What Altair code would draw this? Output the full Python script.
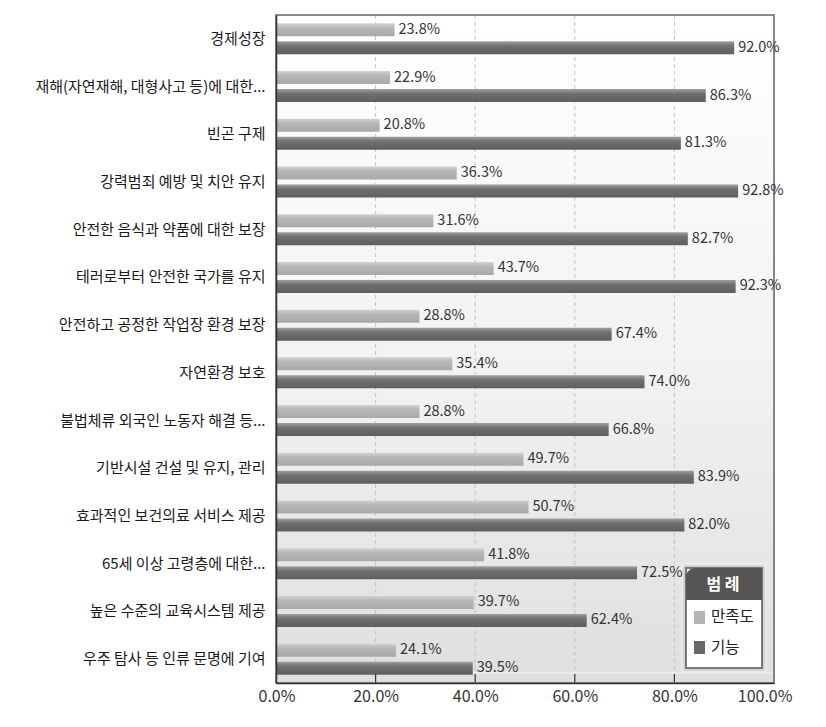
import altair as alt
import pandas as pd

categories = [
    "경제성장",
    "재해(자연재해, 대형사고 등)에 대한...",
    "빈곤 구제",
    "강력범죄 예방 및 치안 유지",
    "안전한 음식과 약품에 대한 보장",
    "테러로부터 안전한 국가를 유지",
    "안전하고 공정한 작업장 환경 보장",
    "자연환경 보호",
    "불법체류 외국인 노동자 해결 등...",
    "기반시설 건설 및 유지, 관리",
    "효과적인 보건의료 서비스 제공",
    "65세 이상 고령층에 대한...",
    "높은 수준의 교육시스템 제공",
    "우주 탐사 등 인류 문명에 기여",
]
satisfaction = [23.8, 22.9, 20.8, 36.3, 31.6, 43.7, 28.8, 35.4, 28.8, 49.7, 50.7, 41.8, 39.7, 24.1]
function_vals = [92.0, 86.3, 81.3, 92.8, 82.7, 92.3, 67.4, 74.0, 66.8, 83.9, 82.0, 72.5, 62.4, 39.5]
series_names = ["만족도", "기능"]
x_ticks = [0, 20, 40, 60, 80, 100]
grid_ticks = [20, 40, 60, 80]

FONT = "Noto Sans CJK KR"
W, H = 498, 668

rows = []
for c, s, f in zip(categories, satisfaction, function_vals):
    rows.append({"category": c, "series": series_names[0], "value": s})
    rows.append({"category": c, "series": series_names[1], "value": f})
df = pd.DataFrame(rows)
dummy = pd.DataFrame({"d": [0]})
grid_df = pd.DataFrame({"v": grid_ticks})

x_scale = alt.Scale(domain=[0, 100], nice=False, zero=True)
y_enc = alt.Y("category:N", sort=categories,
              scale=alt.Scale(paddingInner=0, paddingOuter=0),
              axis=alt.Axis(title=None, ticks=False, labelPadding=11, labelFontSize=15,
                            labelColor="#1a1a1a", labelFont=FONT, domainColor="#333",
                            domainWidth=1.5, labelLimit=300, zindex=1))
yoff = alt.YOffset("series:N", sort=series_names,
                   scale=alt.Scale(paddingInner=0.2778, paddingOuter=0.464))

background = alt.Chart(dummy).mark_rect(
    fill=alt.Gradient(gradient="linear",
                      stops=[alt.GradientStop(color="#ffffff", offset=0),
                             alt.GradientStop(color="#f3f3f3", offset=0.5),
                             alt.GradientStop(color="#dfdfdf", offset=1)],
                      x1=0, x2=0, y1=0, y2=1)
).encode(x=alt.value(0), x2=alt.value(W), y=alt.value(0), y2=alt.value(H))

grid = alt.Chart(grid_df).mark_rule(color="#c4c4c4", strokeDash=[4, 3], strokeWidth=1).encode(
    x=alt.X("v:Q", scale=x_scale), y=alt.value(0), y2=alt.value(H))

bottom_line = alt.Chart(dummy).mark_rule(color="#f4f4f4", strokeWidth=1.2).encode(
    x=alt.value(0), x2=alt.value(W), y=alt.value(H - 10))

base = alt.Chart(df).encode(
    x=alt.X("value:Q", scale=x_scale,
            axis=alt.Axis(title=None, values=x_ticks, grid=False, ticks=False,
                          labelExpr="format(datum.value, '.1f') + '%'",
                          labelFontSize=16, labelColor="#333", labelFont=FONT,
                          labelFlush=True, labelFlushOffset=18,
                          labelPadding=5, domainColor="#333", domainWidth=1.5, zindex=1)),
    y=y_enc,
    yOffset=yoff,
)

light_bars = base.transform_filter(alt.datum.series == series_names[0]).mark_bar(
    fill=alt.Gradient(gradient="linear",
                      stops=[alt.GradientStop(color="#d2d2d2", offset=0),
                             alt.GradientStop(color="#b6b6b6", offset=0.35),
                             alt.GradientStop(color="#a9a9a9", offset=1)],
                      x1=0, x2=0, y1=0, y2=1))
dark_bars = base.transform_filter(alt.datum.series == series_names[1]).mark_bar(
    fill=alt.Gradient(gradient="linear",
                      stops=[alt.GradientStop(color="#a0a0a0", offset=0),
                             alt.GradientStop(color="#707070", offset=0.35),
                             alt.GradientStop(color="#5e5e5e", offset=1)],
                      x1=0, x2=0, y1=0, y2=1))

labels = base.transform_calculate(
    label="format(datum.value, '.1f') + '%'"
).mark_text(align="left", baseline="middle", dx=4, fontSize=14.5, color="#333", font=FONT).encode(
    text="label:N")

ticks = alt.Chart(grid_df).mark_rule(color="#333", strokeWidth=1.2).encode(
    x=alt.X("v:Q", scale=x_scale), y=alt.value(H - 9), y2=alt.value(H))

frame = alt.Chart(dummy).mark_rect(fillOpacity=0, stroke="#666", strokeWidth=1.5).encode(
    x=alt.value(0), x2=alt.value(W), y=alt.value(0), y2=alt.value(H))

# legend
LX0, LX1 = 410, 486
shadow = alt.Chart(dummy).mark_rect(fill="#d4d4d4", stroke="#f0f0f0", strokeWidth=1.5,
                                    cornerRadius=4).encode(
    x=alt.value(406), x2=alt.value(490), y=alt.value(549), y2=alt.value(657))
leg_body = alt.Chart(dummy).mark_rect(fill="#ffffff", stroke="#555", strokeWidth=1.5).encode(
    x=alt.value(LX0), x2=alt.value(LX1), y=alt.value(553), y2=alt.value(653))
leg_head = alt.Chart(dummy).mark_rect(fill="#565656", cornerRadiusTopLeft=9).encode(
    x=alt.value(LX0), x2=alt.value(LX1), y=alt.value(553), y2=alt.value(585))
leg_title = alt.Chart(dummy).mark_text(text="범 례", color="#ffffff", fontSize=16,
                                        fontWeight="bold", font=FONT,
                                        align="center", baseline="middle").encode(
    x=alt.value(447), y=alt.value(570))
sq1 = alt.Chart(dummy).mark_rect(fill="#b4b4b4").encode(
    x=alt.value(418), x2=alt.value(429), y=alt.value(596), y2=alt.value(609))
sq2 = alt.Chart(dummy).mark_rect(fill="#686868").encode(
    x=alt.value(418), x2=alt.value(429), y=alt.value(626), y2=alt.value(639))
t1 = alt.Chart(dummy).mark_text(text=series_names[0], fontSize=15.5, color="#222", font=FONT,
                                 align="left", baseline="middle").encode(
    x=alt.value(435), y=alt.value(602))
t2 = alt.Chart(dummy).mark_text(text=series_names[1], fontSize=15.5, color="#222", font=FONT,
                                 align="left", baseline="middle").encode(
    x=alt.value(435), y=alt.value(633))

chart = alt.layer(
    background, grid, bottom_line, light_bars, dark_bars, ticks, frame, shadow, labels,
    leg_body, leg_head, leg_title, sq1, sq2, t1, t2
).properties(
    width=W, height=H,
    autosize=alt.AutoSizeParams(type="none"),
    padding={"left": 276, "top": 15, "right": 52, "bottom": 44},
).configure_view(stroke=None).configure(background="#ffffff")

chart.save("out.html", embed_options={"renderer": "svg", "actions": False})
